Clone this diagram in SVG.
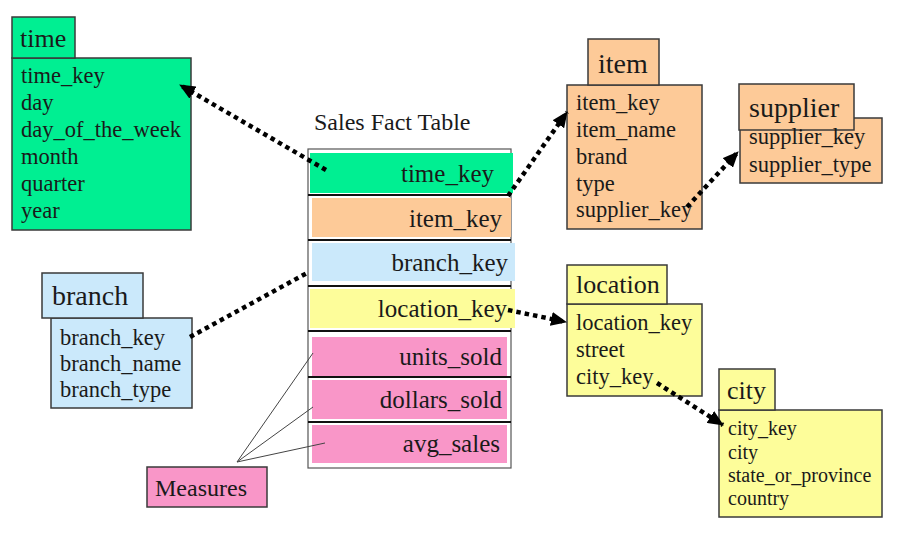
<svg xmlns="http://www.w3.org/2000/svg" width="899" height="558" viewBox="0 0 899 558">
<defs>
<style>
text{font-family:"Liberation Serif","Times New Roman",serif;fill:#1a1a1a}
.box{stroke:#3a3a3a;stroke-width:1.5}
.g{fill:#00ef92}.o{fill:#fdca98}.b{fill:#cbe9fb}.y{fill:#fdfd9a}.p{fill:#f996c8}
.ti{font-size:26px}.tl{font-size:28px}.it{font-size:22.5px}.sm{font-size:20px}.fk{font-size:25px;text-anchor:end}
.dot{fill:none;stroke:#000;stroke-width:4.5;stroke-dasharray:4.5 4}
.sep{stroke:#111;stroke-width:1.8}
.thin{stroke:#444;stroke-width:1;fill:none}
</style>
<marker id="ah" markerUnits="userSpaceOnUse" markerWidth="16" markerHeight="14" viewBox="0 0 16 14" refX="15" refY="7" orient="auto">
<path d="M0,0 L16,7 L0,14 z" fill="#000"/>
</marker>
</defs>
<rect width="899" height="558" fill="#fff"/>

<g id="time">
<rect class="box g" x="12" y="58" width="179" height="172"/>
<rect class="box g" x="12" y="17" width="63" height="41"/>
<text class="ti" x="20" y="47">time</text>
<text class="it" x="21" y="83">time_key</text>
<text class="it" x="21" y="110">day</text>
<text class="it" x="21" y="137">day_of_the_week</text>
<text class="it" x="21" y="164">month</text>
<text class="it" x="21" y="191">quarter</text>
<text class="it" x="21" y="218">year</text>
</g>

<g id="fact">
<text x="314" y="130" style="font-size:24px">Sales Fact Table</text>
<rect x="308" y="149" width="203" height="319" fill="#fff" stroke="#555" stroke-width="1.2"/>
<rect class="g" x="310" y="153" width="203" height="40"/>
<rect class="o" x="312" y="198" width="199" height="39"/>
<rect class="b" x="312" y="243" width="203" height="38"/>
<rect class="y" x="310" y="289" width="205" height="39"/>
<rect class="p" x="312" y="337" width="195" height="39"/>
<rect class="p" x="312" y="380" width="195" height="39"/>
<rect class="p" x="312" y="425" width="195" height="38"/>
<line class="sep" x1="308" y1="195" x2="511" y2="195"/>
<line class="sep" x1="308" y1="240" x2="511" y2="240"/>
<line class="sep" x1="308" y1="286" x2="511" y2="286"/>
<line class="sep" x1="308" y1="331" x2="511" y2="331"/>
<line class="sep" x1="308" y1="377" x2="511" y2="377"/>
<line class="sep" x1="308" y1="422" x2="511" y2="422"/>
<text class="fk" x="494" y="182">time_key</text>
<text class="fk" x="502" y="227">item_key</text>
<text class="fk" x="508" y="271">branch_key</text>
<text class="fk" x="507" y="317">location_key</text>
<text class="fk" x="502" y="365">units_sold</text>
<text class="fk" x="502" y="408">dollars_sold</text>
<text class="fk" x="500" y="452">avg_sales</text>
</g>

<g id="item">
<rect class="box o" x="567" y="85" width="135" height="144"/>
<rect class="box o" x="588" y="39" width="71" height="46"/>
<text class="tl" x="598" y="73">item</text>
<text class="it" x="576" y="110">item_key</text>
<text class="it" x="576" y="137">item_name</text>
<text class="it" x="576" y="164">brand</text>
<text class="it" x="576" y="191">type</text>
<text class="it" x="576" y="217">supplier_key</text>
</g>

<g id="supplier">
<rect class="box o" x="740" y="118" width="142" height="65"/>
<rect class="box o" x="739" y="84" width="115" height="46"/>
<text class="tl" x="749" y="117">supplier</text>
<text class="it" x="749" y="144">supplier_key</text>
<text class="it" x="749" y="172">supplier_type</text>
</g>

<g id="branch">
<rect class="box b" x="51" y="318" width="141" height="90"/>
<rect class="box b" x="42" y="273" width="101" height="45"/>
<text class="tl" x="52" y="305">branch</text>
<text class="it" x="60" y="345">branch_key</text>
<text class="it" x="60" y="371">branch_name</text>
<text class="it" x="60" y="397">branch_type</text>
</g>

<g id="location">
<rect class="box y" x="567" y="304" width="135" height="92"/>
<rect class="box y" x="567" y="265" width="100" height="39"/>
<text class="ti" x="576" y="293">location</text>
<text class="it" x="576" y="330">location_key</text>
<text class="it" x="576" y="357">street</text>
<text class="it" x="576" y="384">city_key</text>
</g>

<g id="city">
<rect class="box y" x="719" y="410" width="163" height="107"/>
<rect class="box y" x="719" y="369" width="56" height="41"/>
<text class="ti" x="727" y="399">city</text>
<text class="sm" x="728" y="435">city_key</text>
<text class="sm" x="728" y="459">city</text>
<text class="sm" x="728" y="482">state_or_province</text>
<text class="sm" x="728" y="505">country</text>
</g>

<g id="measures">
<rect class="box p" x="147" y="467" width="120" height="40"/>
<text x="155" y="496" style="font-size:24px">Measures</text>
</g>

<g id="connectors">
<path class="dot" d="M326,170 L180,85" marker-end="url(#ah)"/>
<path class="dot" d="M508,196 L567,112" marker-end="url(#ah)"/>
<path class="dot" d="M687,207 L738,152" marker-end="url(#ah)"/>
<path class="dot" d="M190,337 L307,273"/>
<path class="dot" d="M508,310 L566,322" marker-end="url(#ah)"/>
<path class="dot" d="M657,383 L723,425" marker-end="url(#ah)"/>
<path class="thin" d="M237,462 L313,353 M237,462 L313,407 M237,462 L325,443"/>
</g>
</svg>
